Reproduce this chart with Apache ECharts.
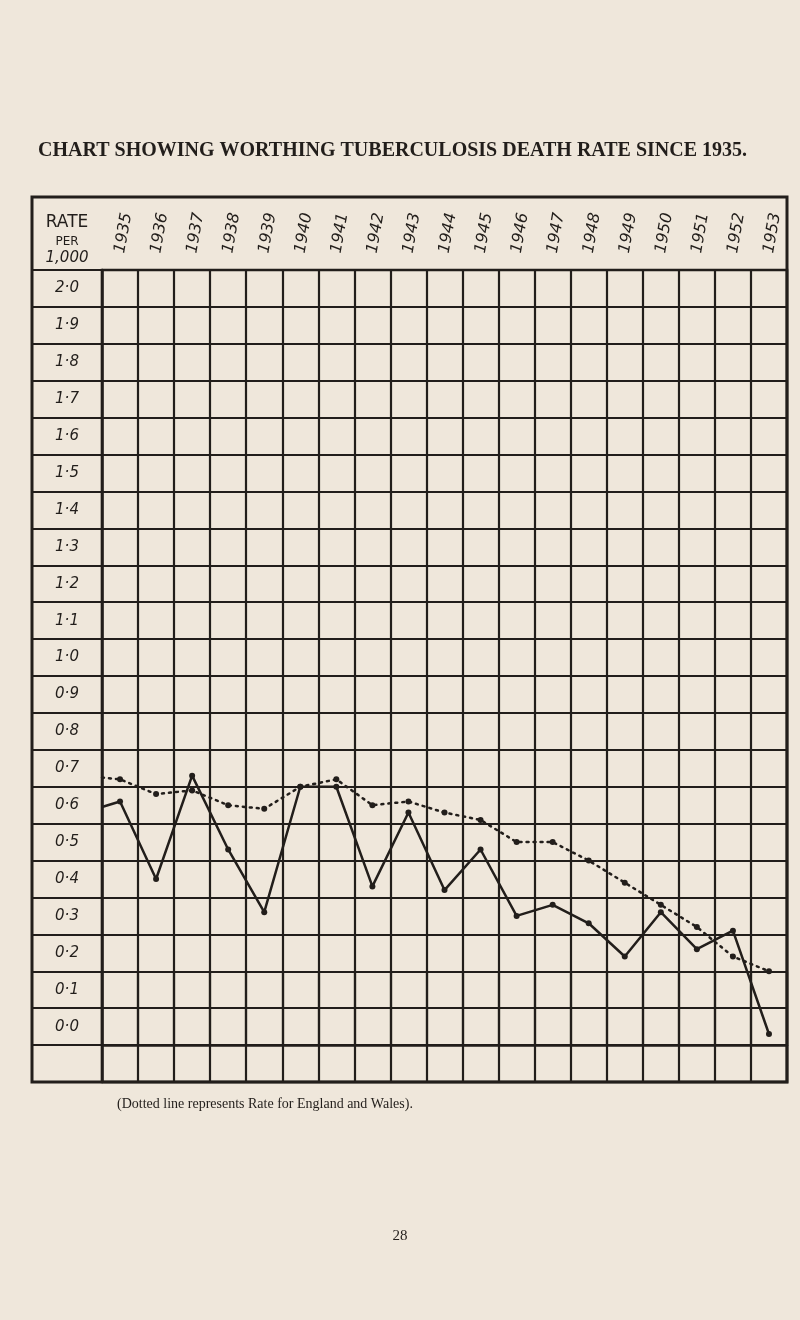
<!DOCTYPE html>
<html>
<head>
<meta charset="utf-8">
<script src="https://cdn.jsdelivr.net/npm/echarts@6/dist/echarts.min.js"></script>
<style>
  html, body { margin: 0; padding: 0; background: #efe7db; }
  #chart { width: 800px; height: 1320px; }
</style>
</head>
<body>
<div id="chart"></div>
<script>
// ---- data ----
const years = ['1935','1936','1937','1938','1939','1940','1941','1942','1943','1944',
               '1945','1946','1947','1948','1949','1950','1951','1952','1953'];
const rowLabels = ['2·0','1·9','1·8','1·7','1·6','1·5','1·4','1·3','1·2','1·1','1·0',
                   '0·9','0·8','0·7','0·6','0·5','0·4','0·3','0·2','0·1','0·0',''];
// Worthing (solid line), deaths per 1,000
const worthing = [0.66, 0.45, 0.73, 0.53, 0.36, 0.70, 0.70, 0.43, 0.63, 0.42,
                  0.53, 0.35, 0.38, 0.33, 0.24, 0.36, 0.26, 0.31, 0.03];
// England and Wales (dotted line)
const englandWales = [0.72, 0.68, 0.69, 0.65, 0.64, 0.70, 0.72, 0.65, 0.66, 0.63,
                      0.61, 0.55, 0.55, 0.50, 0.44, 0.38, 0.32, 0.24, 0.20];
// value at which each line enters the chart from the left edge (carried over from 1934)
const worthingEntry = 0.645;
const englandWalesEntry = 0.725;
const valueMin = -0.1, valueMax = 2.1;

// ---- layout ----
const INK = '#221e1b';
const G = { left: 102, right: 13, top: 270, bottom: 238 };
const frame = { left: 32, top: 197 };
const W = 800, H = 1320;

function build(vals, entry) {
  const yStart = Number(years[0]) - 0.5;
  const pts = [{ value: [yStart, entry], symbol: 'none' }];
  years.forEach((y, i) => pts.push([Number(y), vals[i]]));
  return pts;
}

const chart = echarts.init(document.getElementById('chart'), null, { renderer: 'canvas' });
const gridLine = { color: INK, width: 2.2 };
const option = {
  backgroundColor: '#efe7db',
  animation: false,
  grid: { left: G.left, right: G.right, top: G.top, bottom: G.bottom, show: true,
          borderColor: INK, borderWidth: 2.5, backgroundColor: 'transparent' },
  xAxis: [
    { type: 'category', data: years, position: 'top', boundaryGap: true,
      axisLine: { show: true, lineStyle: { color: INK, width: 2.5 } },
      axisTick: { show: true, inside: false, length: G.top - frame.top, interval: 0,
                  lineStyle: { color: INK, width: 2.2 } },
      axisLabel: { interval: 0, rotate: 80, margin: 17, color: INK, fontSize: 16,
                   fontStyle: 'italic', fontFamily: 'DejaVu Sans' },
      splitLine: { show: true, interval: 0, lineStyle: gridLine } },
    { type: 'value', min: Number(years[0]) - 0.5, max: Number(years[years.length - 1]) + 0.5,
      show: false }
  ],
  yAxis: [
    { type: 'category', data: rowLabels, inverse: true, boundaryGap: true,
      axisLine: { show: true, lineStyle: { color: INK, width: 2.5 } },
      axisTick: { show: true, inside: false, length: G.left - frame.left, interval: 0,
                  lineStyle: { color: INK, width: 2.2 } },
      axisLabel: { interval: 0, align: 'center', margin: (G.left - frame.left) / 2,
                   color: INK, fontSize: 15, fontStyle: 'italic', fontFamily: 'DejaVu Sans',
                   padding: [8, 0, 0, 0] },
      splitLine: { show: true, interval: 0, lineStyle: gridLine } },
    { type: 'value', min: valueMin, max: valueMax, show: false }
  ],
  series: [
    { name: 'Worthing', type: 'line', xAxisIndex: 1, yAxisIndex: 1,
      data: build(worthing, worthingEntry),
      symbol: 'circle', symbolSize: 6,
      itemStyle: { color: INK },
      lineStyle: { color: INK, width: 2.5, type: 'solid' } },
    { name: 'England and Wales', type: 'line', xAxisIndex: 1, yAxisIndex: 1,
      data: build(englandWales, englandWalesEntry),
      symbol: 'circle', symbolSize: 6,
      itemStyle: { color: INK },
      lineStyle: { color: INK, width: 2.5, type: [2, 5], cap: 'round' } }
  ],
  graphic: [
    { type: 'rect', silent: true, z: 10,
      shape: { x: frame.left, y: frame.top, width: W - G.right - frame.left,
               height: H - G.bottom - frame.top },
      style: { fill: 'none', stroke: INK, lineWidth: 3 } },
    { type: 'text', left: 38, top: 141,
      style: { text: 'CHART SHOWING WORTHING TUBERCULOSIS DEATH RATE SINCE 1935.',
               fill: INK, font: 'bold 20px "Liberation Serif"' } },
    { type: 'text', x: (frame.left + G.left) / 2, y: 223,
      style: { text: 'RATE', fill: INK, font: '17px "DejaVu Sans"', textAlign: 'center',
               textVerticalAlign: 'middle' } },
    { type: 'text', x: (frame.left + G.left) / 2, y: 242,
      style: { text: 'PER', fill: INK, font: '12px "DejaVu Sans"', textAlign: 'center',
               textVerticalAlign: 'middle' } },
    { type: 'text', x: (frame.left + G.left) / 2, y: 258,
      style: { text: '1,000', fill: INK, font: 'italic 15px "DejaVu Sans"', textAlign: 'center',
               textVerticalAlign: 'middle' } },
    { type: 'text', left: 117, top: 1097,
      style: { text: '(Dotted line represents Rate for England and Wales).', fill: INK,
               font: '14px "Liberation Serif"' } },
    { type: 'text', x: 400, y: 1236,
      style: { text: '28', fill: INK, font: '15px "Liberation Serif"', textAlign: 'center',
               textVerticalAlign: 'middle' } }
  ]
};
chart.setOption(option);
</script>
</body>
</html>
